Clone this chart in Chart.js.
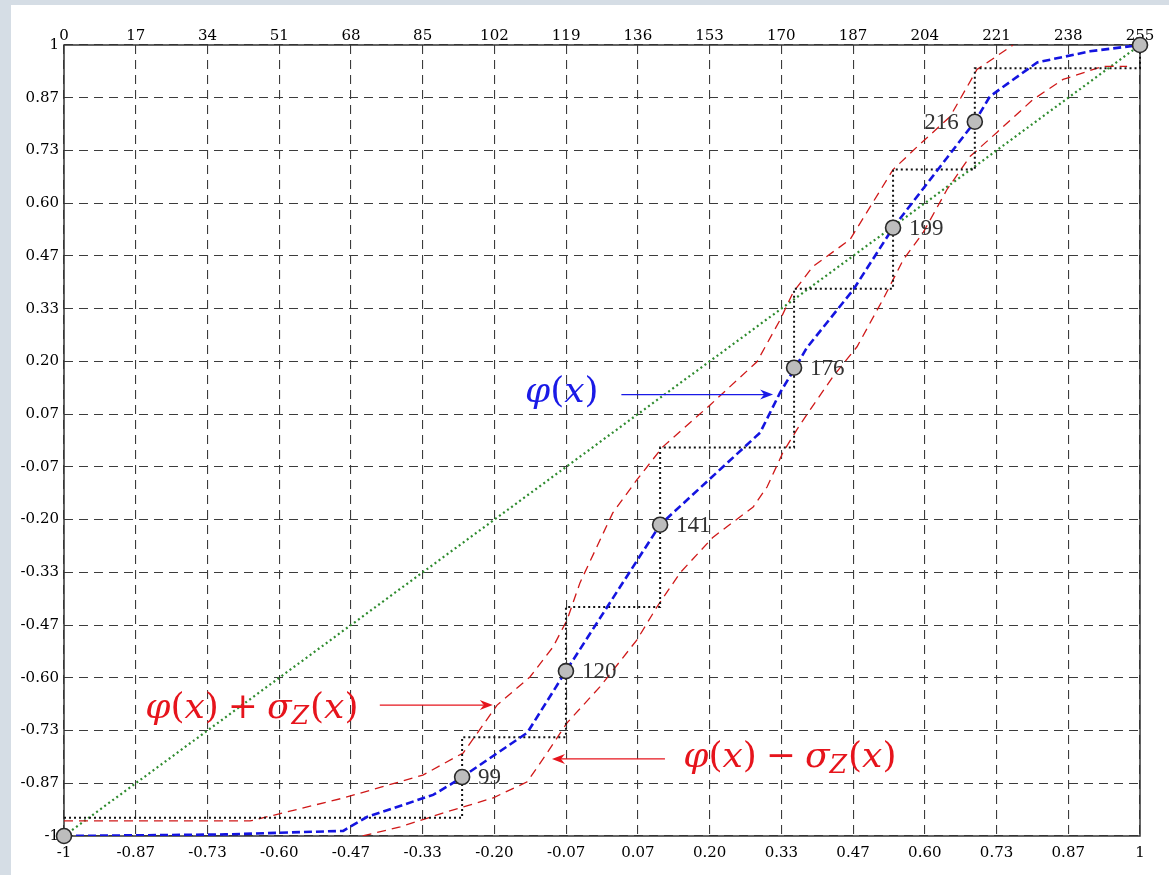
<!DOCTYPE html>
<html><head><meta charset="utf-8">
<script src="https://cdn.jsdelivr.net/npm/chart.js@4/dist/chart.umd.min.js"></script>
<style>
html,body{margin:0;padding:0;background:#d5dde5;overflow:hidden;}
#wrap{position:absolute;left:0;top:0;width:1169px;height:875px;}
</style></head><body>
<div id="wrap"><canvas id="c" width="1169" height="875"></canvas></div>
<script>
// ---- tick labels ----
const xTickLabels = ['-1','-0.87','-0.73','-0.60','-0.47','-0.33','-0.20','-0.07','0.07','0.20','0.33','0.47','0.60','0.73','0.87','1'];
const topTickLabels = ['0','17','34','51','68','85','102','119','136','153','170','187','204','221','238','255'];
const yTickLabels = ['-1','-0.87','-0.73','-0.60','-0.47','-0.33','-0.20','-0.07','0.07','0.20','0.33','0.47','0.60','0.73','0.87','1'];

// ---- phi(x) (blue) ----
const phiX = [-1, -0.70, -0.481, -0.437, -0.314, -0.283, -0.260, -0.139, -0.067, 0.108, 0.294, 0.331, 0.359, 0.381, 0.467, 0.541, 0.693, 0.721, 0.809, 0.907, 1];
const phiY = [-1, -0.996, -0.987, -0.952, -0.896, -0.871, -0.851, -0.739, -0.583, -0.213, 0.020, 0.121, 0.184, 0.235, 0.381, 0.538, 0.806, 0.870, 0.956, 0.984, 1];

// ---- phi(x) + sigma (red upper) ----
const upperX = [-1, -0.654, -0.481, -0.333, -0.258, -0.195, -0.134, -0.091, -0.065, -0.041, 0.020, 0.065, 0.113, 0.201, 0.288, 0.331, 0.355, 0.392, 0.461, 0.541, 0.586, 0.647, 0.697, 0.764];
const upperY = [-0.962, -0.962, -0.904, -0.846, -0.790, -0.669, -0.598, -0.522, -0.454, -0.360, -0.183, -0.099, -0.016, 0.090, 0.199, 0.305, 0.374, 0.440, 0.508, 0.685, 0.743, 0.819, 0.938, 1.0];

// ---- phi(x) - sigma (red lower) ----
const lowerX = [-0.445, -0.375, -0.296, -0.203, -0.139, -0.102, -0.065, -0.004, 0.065, 0.102, 0.145, 0.206, 0.281, 0.307, 0.336, 0.362, 0.387, 0.429, 0.474, 0.522, 0.560, 0.597, 0.641, 0.684, 0.734, 0.801, 0.857, 0.931, 0.976];
const lowerY = [-1.0, -0.977, -0.942, -0.904, -0.863, -0.790, -0.714, -0.623, -0.504, -0.421, -0.335, -0.245, -0.168, -0.117, -0.031, 0.027, 0.078, 0.161, 0.237, 0.356, 0.457, 0.526, 0.634, 0.718, 0.779, 0.862, 0.913, 0.946, 0.946];

// ---- identity (green) ----
const diagX = [-1, 1];
const diagY = [-1, 1];

// ---- quantisation staircase (black dotted, horizontal then vertical) ----
const stairX = [-1, -0.260, -0.067, 0.108, 0.357, 0.541, 0.693, 1];
const stairY = [-0.954, -0.750, -0.421, -0.018, 0.384, 0.685, 0.941, 1];

// ---- markers ----
const markerX = [-1, -0.260, -0.067, 0.108, 0.357, 0.541, 0.693, 1];
const markerY = [-1, -0.851, -0.583, -0.213, 0.184, 0.538, 0.806, 1];
const markerLabels = ['', '99', '120', '141', '176', '199', '216', ''];

const zip = (xs, ys) => xs.map((x, i) => ({x: x, y: ys[i]}));

const TICK_FONT = {family: 'DejaVu Serif', size: 15};
const tickPos = (labels, lo, hi) => labels.map((l, i) => lo + (hi - lo) * i / (labels.length - 1));

function arrow(ctx, x1, y1, x2, y2, color) {
  const ang = Math.atan2(y2 - y1, x2 - x1);
  const L = 13, W = 5;
  ctx.save();
  ctx.strokeStyle = color; ctx.fillStyle = color; ctx.lineWidth = 1.3;
  ctx.beginPath(); ctx.moveTo(x1, y1);
  ctx.lineTo(x2 - Math.cos(ang) * (L - 4), y2 - Math.sin(ang) * (L - 4)); ctx.stroke();
  ctx.translate(x2, y2); ctx.rotate(ang);
  ctx.beginPath(); ctx.moveTo(0, 0); ctx.lineTo(-L, -W); ctx.lineTo(-L + 4, 0); ctx.lineTo(-L, W); ctx.closePath(); ctx.fill();
  ctx.restore();
}

function mathText(ctx, pieces, x, y, color, size) {
  ctx.save();
  ctx.fillStyle = color; ctx.textBaseline = 'middle'; ctx.textAlign = 'left';
  let cx = x;
  for (const p of pieces) {
    if (p.sp) { cx += p.sp; continue; }
    const s = p.sub ? size * 0.7 : size;
    ctx.font = (p.it ? 'italic ' : '') + s + 'px "DejaVu Serif"';
    ctx.fillText(p.t, cx, y + (p.sub ? size * 0.22 : 0));
    cx += ctx.measureText(p.t).width + (p.k || 0);
  }
  ctx.restore();
}

const phiPieces = [{t:'\u03C6', it:true}, {t:'('}, {t:'x', it:true}, {t:')'}];
const plusPieces = phiPieces.concat([{sp:9}, {t:'+'}, {sp:9}, {t:'\u03C3', it:true}, {t:'Z', it:true, sub:true, k:1}, {t:'('}, {t:'x', it:true}, {t:')'}]);
const minusPieces = phiPieces.concat([{sp:9}, {t:'\u2212'}, {sp:9}, {t:'\u03C3', it:true}, {t:'Z', it:true, sub:true, k:1}, {t:'('}, {t:'x', it:true}, {t:')'}]);

const deco = {
  id: 'deco',
  beforeDraw(chart) {
    const ctx = chart.ctx;
    ctx.save();
    ctx.fillStyle = '#d5dde5'; ctx.fillRect(0, 0, chart.width, chart.height);
    ctx.fillStyle = '#ffffff'; ctx.fillRect(11, 5, chart.width - 11, chart.height - 5);
    ctx.restore();
  },
  beforeDatasetsDraw(chart) {
    const {ctx, chartArea: a} = chart;
    ctx.save();
    ctx.strokeStyle = '#333'; ctx.lineWidth = 1.5;
    ctx.strokeRect(a.left, a.top, a.right - a.left, a.bottom - a.top);
    ctx.restore();
  },
  afterDatasetsDraw(chart) {
    const ctx = chart.ctx;
    const xs = chart.scales.x, ys = chart.scales.y;
    const px = v => xs.getPixelForValue(v), py = v => ys.getPixelForValue(v);
    // marker labels
    ctx.save();
    ctx.font = '23px "Liberation Serif"'; ctx.fillStyle = '#333'; ctx.textBaseline = 'middle';
    markerLabels.forEach((l, i) => {
      if (!l) return;
      const left = (l === '216');
      ctx.textAlign = left ? 'right' : 'left';
      ctx.fillText(l, px(markerX[i]) + (left ? -16 : 16), py(markerY[i]) + 1);
    });
    ctx.restore();
    // annotations
    mathText(ctx, phiPieces, px(-0.143), py(0.121), '#1a1ae6', 36);
    arrow(ctx, px(0.036), py(0.116), px(0.318), py(0.116), '#1a1ae6');
    mathText(ctx, plusPieces, px(-0.849), py(-0.679), '#e6141c', 36);
    arrow(ctx, px(-0.413), py(-0.669), px(-0.203), py(-0.669), '#e6141c');
    mathText(ctx, minusPieces, px(0.151), py(-0.803), '#e6141c', 36);
    arrow(ctx, px(0.117), py(-0.805), px(-0.093), py(-0.805), '#e6141c');
  }
};

new Chart(document.getElementById('c'), {
  type: 'scatter',
  data: {
    datasets: [
      {label: 'markers', data: zip(markerX, markerY), showLine: false, pointRadius: 7.5, pointHoverRadius: 7.5,
       pointBackgroundColor: '#bdbdbd', pointBorderColor: '#2a2a2a', pointBorderWidth: 1.6, clip: false},
      {label: 'phi', data: zip(phiX, phiY), showLine: true, borderColor: '#1414e0', borderWidth: 2.6,
       borderDash: [8, 4], pointRadius: 0, tension: 0, fill: false},
      {label: 'stairs', data: zip(stairX, stairY), showLine: true, stepped: 'before', borderColor: '#111', borderWidth: 2,
       borderDash: [2, 3], pointRadius: 0, fill: false, clip: false},
      {label: 'upper', data: zip(upperX, upperY), showLine: true, borderColor: '#d01818', borderWidth: 1.3,
       borderDash: [9, 6], pointRadius: 0, tension: 0, fill: false},
      {label: 'lower', data: zip(lowerX, lowerY), showLine: true, borderColor: '#d01818', borderWidth: 1.3,
       borderDash: [9, 6], pointRadius: 0, tension: 0, fill: false},
      {label: 'diag', data: zip(diagX, diagY), showLine: true, borderColor: '#2e8b2e', borderWidth: 2.2,
       borderDash: [2, 3], pointRadius: 0, fill: false}
    ]
  },
  options: {
    responsive: false, animation: false, devicePixelRatio: 1,
    layout: {padding: {left: 0, right: 29, top: 0, bottom: 0}},
    plugins: {legend: {display: false}, tooltip: {enabled: false}},
    scales: {
      x: {
        type: 'linear', position: 'bottom', min: -1, max: 1,
        afterBuildTicks: s => { s.ticks = tickPos(xTickLabels, -1, 1).map(v => ({value: v})); },
        afterFit: s => { s.height = 39; },
        ticks: {callback: (v, i) => xTickLabels[i], font: TICK_FONT, color: '#000', padding: 8, maxRotation: 0, autoSkip: false},
        grid: {color: '#3c3c3c', lineWidth: 1.1, drawTicks: false},
        border: {display: false, dash: [9, 6]}
      },
      x2: {
        type: 'linear', position: 'top', min: 0, max: 255,
        afterBuildTicks: s => { s.ticks = tickPos(topTickLabels, 0, 255).map(v => ({value: v})); },
        afterFit: s => { s.height = 45; },
        ticks: {callback: (v, i) => topTickLabels[i], font: TICK_FONT, color: '#000', padding: 0, maxRotation: 0, autoSkip: false},
        grid: {display: false, drawTicks: false},
        border: {display: false}
      },
      y: {
        type: 'linear', position: 'left', min: -1, max: 1,
        afterBuildTicks: s => { s.ticks = tickPos(yTickLabels, -1, 1).map(v => ({value: v})); },
        afterFit: s => { s.width = 64; },
        ticks: {callback: (v, i) => yTickLabels[i], font: TICK_FONT, color: '#000', padding: 5, autoSkip: false},
        grid: {color: '#3c3c3c', lineWidth: 1.1, drawTicks: false},
        border: {display: false, dash: [9, 6]}
      }
    }
  },
  plugins: [deco]
});
</script>
</body></html>
